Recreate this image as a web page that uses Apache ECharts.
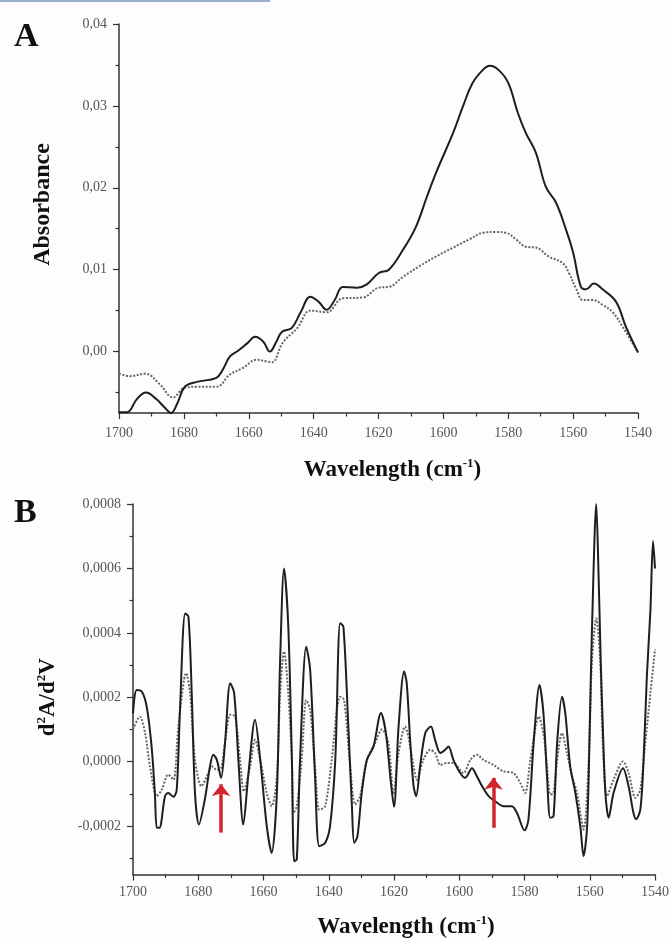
<!DOCTYPE html>
<html>
<head>
<meta charset="utf-8">
<title>FTIR spectra</title>
<script src="https://cdn.jsdelivr.net/npm/echarts@6/dist/echarts.min.js"></script>
<style>
  html, body { margin: 0; padding: 0; background: #fdfdfd; }
  #chart { width: 672px; height: 940px; }
</style>
</head>
<body>
<div id="chart"></div>
<script>
// panel A: absorbance, solid and dotted spectra
const aSolidWave = [1700, 1697.5, 1694.5, 1691.7, 1688.5, 1686, 1684, 1682, 1679.7, 1676, 1670, 1668, 1665.8, 1663.3, 1660.5, 1658, 1655.5, 1653.5, 1651.5, 1649.8, 1646.7, 1644, 1641, 1638.5, 1636, 1633.5, 1631, 1626.6, 1623.6, 1619.9, 1616.8, 1612.5, 1608.5, 1605, 1602.3, 1597, 1594, 1591, 1587.8, 1585.7, 1583, 1580, 1577, 1574.6, 1571.5, 1568.4, 1565.3, 1562.2, 1560, 1557.6, 1556, 1553.6, 1550.9, 1546.8, 1543.7, 1540]
const aSolidAbs = [-0.0074, -0.0074, -0.0058, -0.0050, -0.0058, -0.0068, -0.0075, -0.0063, -0.0043, -0.0037, -0.0032, -0.0022, -0.0006, 0.0001, 0.0010, 0.0018, 0.0012, 0.0000, 0.0012, 0.0024, 0.0029, 0.0048, 0.0067, 0.0061, 0.0051, 0.0063, 0.0079, 0.0078, 0.0082, 0.0096, 0.0100, 0.0124, 0.0152, 0.0190, 0.0218, 0.0267, 0.0299, 0.0328, 0.0344, 0.0349, 0.0344, 0.0328, 0.0291, 0.0267, 0.0243, 0.0201, 0.0182, 0.0149, 0.0121, 0.0079, 0.0076, 0.0083, 0.0076, 0.0061, 0.0030, -0.0001]
const aDotWave = [1700, 1696.6, 1692, 1687.4, 1683.4, 1679.7, 1676, 1670, 1665.8, 1661.8, 1657.5, 1654.5, 1652.8, 1649.5, 1645, 1641, 1636, 1631, 1624.8, 1620, 1616.8, 1612.5, 1607.5, 1602.3, 1597, 1592, 1587.8, 1583.8, 1580.7, 1577.6, 1574.6, 1571.5, 1567.5, 1563.2, 1561.3, 1559, 1557, 1554, 1550.9, 1547.8, 1544.7, 1540]
const aDotAbs = [-0.0027, -0.0030, -0.0027, -0.0040, -0.0056, -0.0044, -0.0043, -0.0043, -0.0028, -0.0020, -0.0010, -0.0012, -0.0013, 0.0011, 0.0029, 0.0050, 0.0048, 0.0065, 0.0066, 0.0078, 0.0079, 0.0091, 0.0104, 0.0116, 0.0127, 0.0137, 0.0145, 0.0146, 0.0145, 0.0137, 0.0128, 0.0127, 0.0116, 0.0108, 0.0096, 0.0076, 0.0063, 0.0063, 0.0057, 0.0048, 0.0030, -0.0001]

// panel B: second derivative
const bSolidWave = [1700, 1698.9, 1697.3, 1695.8, 1694.3, 1693.3, 1692.7, 1691.9, 1690.2, 1689.2, 1687.6, 1686.6, 1685.6, 1684, 1683, 1682, 1681, 1679.8, 1678, 1676.4, 1675.4, 1674.3, 1673, 1671.8, 1670.2, 1669, 1667.7, 1666.2, 1664.6, 1662.6, 1661, 1659, 1657.5, 1655.9, 1654.9, 1653.7, 1652.4, 1651.3, 1650.6, 1649.8, 1648.8, 1646.9, 1645.7, 1644.2, 1642.9, 1641.1, 1639.6, 1638, 1636.5, 1635.5, 1634, 1632.9, 1632.2, 1631.2, 1629.9, 1628.3, 1626.3, 1624, 1622.5, 1621, 1620, 1618.6, 1616.9, 1616.1, 1615, 1614, 1613.2, 1612, 1610.4, 1608.7, 1607.4, 1605.8, 1604.3, 1603.3, 1601.8, 1599.7, 1598.2, 1596.1, 1594.6, 1593, 1591, 1589, 1586.4, 1583.9, 1582.3, 1580, 1578.8, 1577.2, 1575.4, 1574.2, 1573.1, 1572.1, 1571.1, 1570, 1568.5, 1567.5, 1566, 1564.4, 1562.9, 1561.9, 1560.8, 1560, 1559.3, 1558, 1557.3, 1556.6, 1556, 1555.2, 1554.2, 1552.7, 1549.8, 1548.1, 1546.6, 1545.8, 1544.5, 1543.5, 1542.5, 1541.4, 1540.6, 1540]
const bSolidD2 = [0.00015, 0.000223, 0.000218, 0.000171, 0.000047, -0.000097, -0.000205, -0.000205, -0.000107, -0.000097, -0.000109, -0.000087, 0.000161, 0.00046, 0.00045, 0.000213, -0.000097, -0.000195, -0.000118, -0.000014, 0.000022, 0.000006, -0.00005, 0.000058, 0.000244, 0.000213, 0.000006, -0.000195, -0.000035, 0.00013, 0.000006, -0.0002, -0.000283, -0.000097, 0.000316, 0.0006, 0.000419, 0.000006, -0.000309, -0.000303, 0.000006, 0.000357, 0.000285, -0.000045, -0.000262, -0.000252, -0.0002, 0.000006, 0.00043, 0.000419, 0.000109, -0.000138, -0.000252, -0.000231, -0.000097, 0.000006, 0.000047, 0.000151, 0.00009, -0.00006, -0.00014, 0.000109, 0.00028, 0.000244, 0.000058, -0.000076, -0.000107, -0.000014, 0.000089, 0.000109, 0.000068, 0.000027, 0.000037, 0.000047, 0.000006, -0.000035, -0.00005, -0.00002, -0.000045, -0.000076, -0.000107, -0.000123, -0.000138, -0.000138, -0.000159, -0.000213, -0.00018, 0.000058, 0.000238, 0.000151, -0.000045, -0.000174, -0.000169, 0.000058, 0.000202, 0.000151, -0.000014, -0.000097, -0.0002, -0.000293, -0.0002, 0.000109, 0.000419, 0.0008, 0.00058, 0.0003, 0.000109, -0.000097, -0.000174, -0.000097, -0.00002, -0.000076, -0.000159, -0.000178, -0.000149, 0.000006, 0.000264, 0.000471, 0.000685, 0.0006]
const bDotWave = [1700, 1697.9, 1696.3, 1694.8, 1692.7, 1691.2, 1689.2, 1687.6, 1686.1, 1683.7, 1682.5, 1681, 1679, 1676.9, 1675.9, 1674.3, 1673, 1671.8, 1670.2, 1668.7, 1667.2, 1666, 1664.1, 1662.6, 1661, 1659, 1657.5, 1655.9, 1654.9, 1653.7, 1652.4, 1651.3, 1650.8, 1649.8, 1648.3, 1646.9, 1645.7, 1644.2, 1642.9, 1641.1, 1639.1, 1636.5, 1635.3, 1633.6, 1631.9, 1630.4, 1628.3, 1625.8, 1623.7, 1621.7, 1620.2, 1618.6, 1616.6, 1615.6, 1614, 1613, 1611, 1608.9, 1607.4, 1605.8, 1603.8, 1601.8, 1598.7, 1596.6, 1594.6, 1592.6, 1589.5, 1586.4, 1583.4, 1581.3, 1579.8, 1578.2, 1575.6, 1574.2, 1573.1, 1572.1, 1571.1, 1570, 1568.5, 1567, 1565.4, 1563.9, 1561.9, 1560.3, 1559.3, 1558, 1556.8, 1556, 1554.7, 1552.7, 1549.8, 1548.1, 1546, 1544.5, 1543, 1541.4, 1540]
const bDotD2 = [0.0001, 0.00014, 0.000089, -0.000014, -0.000107, -0.000087, -0.00004, -0.000056, 0.000109, 0.000275, 0.000213, 0.000006, -0.000076, -0.000035, -0.000014, -0.000025, -0.00002, 0.000058, 0.000146, 0.00014, 0.000006, -0.000092, -0.000014, 0.000068, 0.000006, -0.000097, -0.000138, -0.000045, 0.000213, 0.000342, 0.000213, 0.000006, -0.000159, -0.000138, 0.000006, 0.000192, 0.000161, -0.000014, -0.000149, -0.000138, 0.000006, 0.000202, 0.000192, 0.000006, -0.000133, -0.000107, 0.000006, 0.000058, 0.0001, 0.000058, -0.0001, 0.000027, 0.000109, 0.000078, -0.000014, -0.000056, 0.000006, 0.000037, 0.000027, -0.00001, -0.000004, -0.000004, -0.000035, 0.000006, 0.000022, 0.000006, -0.00001, -0.00003, -0.000035, -0.000066, -0.000097, 0.000006, 0.00014, 0.000089, -0.000014, -0.000102, -0.000097, 0.000006, 0.000089, 0.000027, -0.000045, -0.000097, -0.00021, 0.000006, 0.000316, 0.000445, 0.000316, 0.000058, -0.000107, -0.000056, 0.000001, -0.000035, -0.000112, -0.000087, 0.000058, 0.000213, 0.00035]

// red arrows in panel B (wavenumber, tail, tip)
const arrowWave = [1673, 1589.5]
const arrowTail = [-0.00022, -0.000205]
const arrowTip = [-0.00007, -0.00005]

// axis ticks
const xTicks = [1540, 1560, 1580, 1600, 1620, 1640, 1660, 1680, 1700]
const aLabelTicks = [0, 0.01, 0.02, 0.03, 0.04]
const aMinorTicks = [-0.005, 0.005, 0.015, 0.025, 0.035]
const bLabelTicks = [-0.0002, 0, 0.0002, 0.0004, 0.0006, 0.0008]
const bMinorTicks = [-0.0003, -0.0001, 0.0001, 0.0003, 0.0005, 0.0007]

const SERIF = '"Liberation Serif", "DejaVu Serif", serif'
const AXIS_COLOR = '#333'
const LABEL_COLOR = '#555'

function pairs(xs, ys) {
  return xs.map((x, i) => [x, ys[i]])
}

function commaFmt(digits) {
  return (v) => v.toFixed(digits).replace('.', ',')
}

// axis title style; padding is used to nudge the text along the axis
function nameStyle(padding, size) {
  return {
    fontFamily: SERIF,
    fontWeight: 'bold',
    fontSize: size,
    color: '#111',
    padding,
    rich: {
      b: { fontFamily: SERIF, fontWeight: 'bold', fontSize: size, color: '#111', lineHeight: 26 },
      sup: { fontFamily: SERIF, fontWeight: 'bold', fontSize: 13, color: '#111', lineHeight: 14, verticalAlign: 'top' }
    }
  }
}

function xAxisFor(gridIndex, nameGap, padding, labelMargin) {
  return {
    gridIndex,
    type: 'value',
    inverse: true,
    min: 1540,
    max: 1700,
    interval: 20,
    name: '{b|Wavelength (cm}{sup|-1}{b|)}',
    nameLocation: 'middle',
    nameGap,
    nameTextStyle: nameStyle(padding, 23),
    axisLine: { onZero: false, lineStyle: { color: AXIS_COLOR, width: 1.5 }},
    axisTick: { show: true, inside: false, length: 6, lineStyle: { color: AXIS_COLOR, width: 1.2 }},
    minorTick: { show: true, splitNumber: 2, length: 3.5, lineStyle: { color: AXIS_COLOR, width: 1.2 }},
    axisLabel: {
      customValues: xTicks,
      formatter: (v) => String(v),
      color: LABEL_COLOR,
      fontFamily: SERIF,
      fontSize: 14,
      margin: labelMargin
    },
    splitLine: { show: false }
  }
}

function yAxisPair(gridIndex, min, max, labels, minors, digits, name, nameGap, padding, nameSize) {
  const major = {
    gridIndex,
    type: 'value',
    position: 'left',
    min,
    max,
    name,
    nameLocation: 'middle',
    nameGap,
    nameRotate: 90,
    nameTextStyle: nameStyle(padding, nameSize),
    axisLine: { show: true, onZero: false, lineStyle: { color: AXIS_COLOR, width: 1.5 }},
    axisTick: { show: true, inside: false, length: 6, customValues: labels, lineStyle: { color: AXIS_COLOR, width: 1.2 }},
    axisLabel: {
      customValues: labels,
      formatter: commaFmt(digits),
      color: LABEL_COLOR,
      fontFamily: SERIF,
      fontSize: 14,
      margin: 12
    },
    splitLine: { show: false }
  }
  // second axis only for the short in-between ticks
  const minor = {
    gridIndex,
    type: 'value',
    position: 'left',
    offset: 0,
    min,
    max,
    axisLine: { show: false, onZero: false },
    axisTick: { show: true, inside: false, length: 3.5, customValues: minors, lineStyle: { color: AXIS_COLOR, width: 1.2 }},
    axisLabel: { show: false },
    splitLine: { show: false }
  }
  return [major, minor]
}

const solidLine = { color: '#1e1e1e', width: 2 }
const dotLine = { color: '#666', width: 2, type: [2, 1.6] }

const chart = echarts.init(document.getElementById('chart'), null, { renderer: 'canvas' })

chart.setOption({
  backgroundColor: '#fdfdfd',
  animation: false,
  title: [
    { text: 'A', left: 9, top: 15, textStyle: { fontFamily: SERIF, fontWeight: 'bold', fontSize: 34, color: '#111' }},
    { text: 'B', left: 9, top: 491, textStyle: { fontFamily: SERIF, fontWeight: 'bold', fontSize: 34, color: '#111' }}
  ],
  graphic: [
    { type: 'rect', left: 0, top: 0, shape: { width: 270, height: 2 }, style: { fill: '#9aaed0' }}
  ],
  grid: [
    { left: 119, top: 24, width: 519, height: 389 },
    { left: 133, top: 504, width: 522, height: 371 }
  ],
  xAxis: [xAxisFor(0, 44, [0, 0, 0, 28], 13), xAxisFor(1, 40, [0, 0, 0, 24], 11)],
  yAxis: [
    ...yAxisPair(0, -0.0075, 0.04, aLabelTicks, aMinorTicks, 2, 'Absorbance', 64, [0, 0, 0, 28], 24),
    ...yAxisPair(1, -0.00035, 0.0008, bLabelTicks, bMinorTicks, 4, '{b|d}{sup|2}{b|A/d}{sup|2}{b|V}', 72, [0, 16, 0, 0], 23)
  ],
  series: [
    {
      name: 'A dotted', type: 'line', xAxisIndex: 0, yAxisIndex: 0,
      data: pairs(aDotWave, aDotAbs), smooth: 0.4, showSymbol: false, lineStyle: dotLine
    },
    {
      name: 'A solid', type: 'line', xAxisIndex: 0, yAxisIndex: 0,
      data: pairs(aSolidWave, aSolidAbs), smooth: 0.4, showSymbol: false, lineStyle: solidLine
    },
    {
      name: 'B dotted', type: 'line', xAxisIndex: 1, yAxisIndex: 2,
      data: pairs(bDotWave, bDotD2), smooth: 0.3, showSymbol: false, lineStyle: dotLine
    },
    {
      name: 'B solid', type: 'line', xAxisIndex: 1, yAxisIndex: 2,
      data: pairs(bSolidWave, bSolidD2), smooth: 0.3, showSymbol: false, lineStyle: solidLine,
      markLine: {
        silent: true,
        symbolSize: [14, 12],
        label: { show: false },
        lineStyle: { color: '#d3242b', width: 3.5, type: 'solid' },
        data: arrowWave.map((w, i) => [
          { coord: [w, arrowTail[i]], symbol: 'none' },
          { coord: [w, arrowTip[i]], symbol: 'arrow' }
        ])
      }
    }
  ]
})
</script>
</body>
</html>
